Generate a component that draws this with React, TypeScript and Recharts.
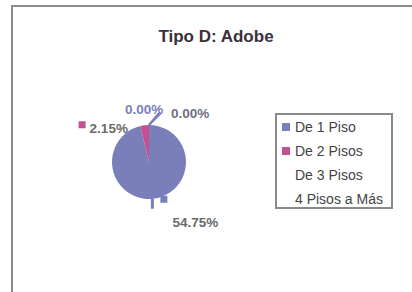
import { PieChart, Pie, Cell, Legend } from 'recharts';

const categories = ['De 1 Piso', 'De 2 Pisos', 'De 3 Pisos', '4 Pisos a Más'];
const values = [54.75, 2.15, 0, 0];
const labels = ['54.75%', '2.15%', '0.00%', '0.00%'];
const colors = ['#7a7fba', '#c4508f', '#ffffff', '#ffffff'];

const data = categories.map((name, i) => ({ name, value: values[i], label: labels[i] }));

const RADIAN = Math.PI / 180;
const font = '"Liberation Sans", Arial, sans-serif';

// where each label sits relative to the edge point of its slice
const labelOffsets = [
  { tx: 19, ty: 24, key: true, kx: 7, ky: 0, fill: '#6a6a6a' },
  { tx: -55, ty: 3, key: true, kx: -66, ky: -1, fill: '#6a6a6a' },
  { tx: -24, ty: -16, key: false, kx: 0, ky: 0, fill: '#7a7fba' },
  { tx: 22, ty: -12, key: false, kx: 0, ky: 0, fill: '#6f6f86' },
];

function renderLabel(props: any) {
  const { cx, cy, midAngle, outerRadius, index } = props;
  const px = cx + outerRadius * Math.cos(-midAngle * RADIAN);
  const py = cy + outerRadius * Math.sin(-midAngle * RADIAN);
  const o = labelOffsets[index];
  return (
    <g key={`lbl-${index}`}>
      {index === 0 && (
        <line x1={px - 1} y1={py} x2={px - 1} y2={py + 10} stroke={colors[0]} strokeWidth={3} />
      )}
      {index >= 2 && (
        <line x1={px} y1={py} x2={px + (index === 2 ? 10 : 12)} y2={py - 12} stroke={colors[0]} strokeWidth={2} />
      )}
      {o.key && (
        <rect x={px + o.kx} y={py + o.ky - 3} width={7} height={7} fill={colors[index]} />
      )}
      <text
        x={px + o.tx}
        y={py + o.ty}
        dominantBaseline="central"
        fill={o.fill}
        fontSize={13.5}
        fontWeight="bold"
        fontFamily={font}
      >
        {data[index].label}
      </text>
    </g>
  );
}

function LegendBox({ payload }: any) {
  return (
    <div
      style={{
        border: '2px solid #8a8a8a',
        width: 118,
        height: 96,
        padding: '0 0 0 5px',
        boxSizing: 'border-box',
        fontFamily: font,
        fontSize: 14,
        color: '#444',
        background: '#fff',
      }}
    >
      {(payload || []).map((entry: any, i: number) => (
        <div key={i} style={{ display: 'flex', alignItems: 'center', height: 24, whiteSpace: 'nowrap' }}>
          <span
            style={{
              display: 'inline-block',
              width: 8,
              height: 8,
              marginRight: 5,
              background: colors[i],
            }}
          />
          {categories[i]}
        </div>
      ))}
    </div>
  );
}

export default function App() {
  return (
    <div style={{ position: 'absolute', left: 0, top: 0, width: 412, height: 292, background: '#fff', overflow: 'hidden' }}>
      <div
        style={{
          position: 'absolute',
          left: 11,
          top: 5,
          width: 420,
          height: 300,
          borderLeft: '2px solid #8c8c8c',
          borderTop: '2px solid #8c8c8c',
        }}
      />
      <div
        style={{
          position: 'absolute',
          left: 0,
          width: 432,
          top: 27,
          textAlign: 'center',
          fontFamily: font,
          fontWeight: 'bold',
          fontSize: 17,
          color: '#3b303b',
        }}
      >
        Tipo D: Adobe
      </div>
      <PieChart
        width={412}
        height={292}
        margin={{ top: 0, right: 0, bottom: 0, left: 0 }}
        style={{ position: 'absolute', left: 0, top: 0 }}
      >
        <Pie
          data={data}
          dataKey="value"
          nameKey="name"
          cx={149}
          cy={162}
          outerRadius={37}
          startAngle={90}
          endAngle={-270}
          stroke="none"
          label={renderLabel}
          labelLine={false}
          isAnimationActive={false}
        >
          {data.map((_, i) => (
            <Cell key={i} fill={colors[i]} />
          ))}
        </Pie>
        <Legend
          layout="vertical"
          content={<LegendBox />}
          wrapperStyle={{ position: 'absolute', left: 275, top: 113, width: 118 }}
        />
      </PieChart>
    </div>
  );
}
